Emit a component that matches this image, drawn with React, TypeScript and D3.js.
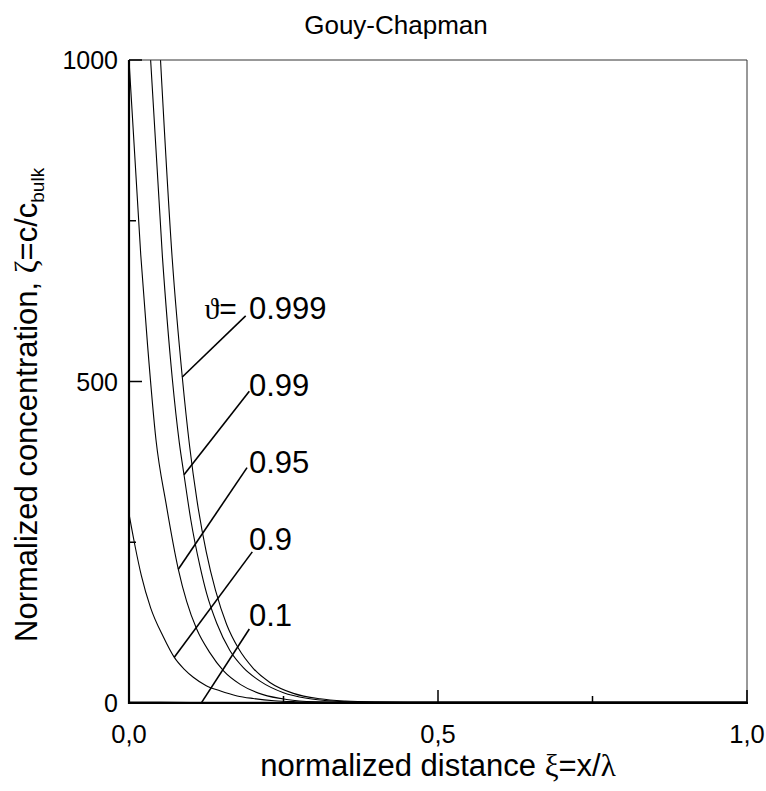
import React from "react";
import * as d3 from "d3";

// ---- data ----
const XI_0999 = [0.051, 0.07, 0.0862, 0.098, 0.11, 0.125, 0.14, 0.158, 0.177, 0.201, 0.228, 0.266, 0.309, 0.35, 0.4, 0.45, 0.55, 0.7, 1.0];
const ZETA_0999 = [1000, 690, 507, 400, 315, 235, 175, 122, 85, 54, 32, 15, 6.5, 3, 1.5, 1.1, 1, 1, 1];

const XI_099 = [0.035, 0.054, 0.07, 0.0814, 0.089, 0.1, 0.115, 0.1257, 0.142, 0.163, 0.185, 0.212, 0.25, 0.2875, 0.33, 0.38, 0.45, 0.55, 0.7, 1.0];
const ZETA_099 = [1000, 695, 505, 405, 355, 285, 212, 170, 124, 82, 55, 34, 16, 7.3, 3, 1.4, 1.1, 1, 1, 1];

const XI_095 = [0.0, 0.019, 0.03, 0.0437, 0.06, 0.0798, 0.0933, 0.1095, 0.131, 0.153, 0.18, 0.217, 0.255, 0.3, 0.35, 0.4, 0.5, 0.7, 1.0];
const ZETA_095 = [1000, 697, 557, 409, 310, 208, 158, 115, 78, 50, 29, 13, 5.5, 2, 1.2, 1.05, 1, 1, 1];

const XI_09 = [0.0, 0.01, 0.02, 0.035, 0.0555, 0.0733, 0.09, 0.104, 0.125, 0.147, 0.175, 0.201, 0.235, 0.27, 0.31, 0.36, 0.42, 0.55, 0.7, 1.0];
const ZETA_09 = [294, 243, 198, 148, 103, 71, 52, 40, 27, 19, 11, 7, 3.5, 2, 1.3, 1.1, 1, 1, 1, 1];

const XI_01 = [0.0, 0.05, 0.1, 0.2, 0.3, 0.5, 0.7, 1.0];
const ZETA_01 = [1.5, 1.3, 1.15, 1.05, 1.02, 1, 1, 1];

const SERIES_XI = [XI_0999, XI_099, XI_095, XI_09, XI_01];
const SERIES_ZETA = [ZETA_0999, ZETA_099, ZETA_095, ZETA_09, ZETA_01];

const LABELS = ["0.999", "0.99", "0.95", "0.9", "0.1"];
const LABEL_XI = 0.194;
const LABEL_ZETA = [597, 478, 358, 238, 120];
const LEADER_START_XI = [0.1888, 0.1947, 0.191, 0.1995, 0.1947];
const LEADER_START_ZETA = [602, 485, 366, 235, 115];
const LEADER_END_XI = [0.0862, 0.089, 0.0798, 0.0733, 0.1176];
const LEADER_END_ZETA = [507, 355, 208, 71, 1];

const X_MAJOR = [0, 0.5, 1.0];
const X_MAJOR_LABELS = ["0,0", "0,5", "1,0"];
const X_MINOR = [0.25, 0.75];
const Y_MAJOR = [0, 500, 1000];
const Y_MINOR = [250, 750];

const TITLE = "Gouy-Chapman";

// ---- layout ----
const W = 766;
const H = 791;
const M = { left: 129, right: 19, top: 60, bottom: 88 };
const SANS = "'Liberation Sans', Arial, Helvetica, sans-serif";
const SERIF = "'Liberation Serif', 'DejaVu Serif', 'Times New Roman', serif";

export default function App() {
  const x = d3.scaleLinear().domain([0, 1]).range([M.left, W - M.right]);
  const y = d3.scaleLinear().domain([0, 1000]).range([H - M.bottom, M.top]);

  const line = d3
    .line<[number, number]>()
    .x((d) => x(d[0]))
    .y((d) => y(d[1]))
    .curve(d3.curveMonotoneX);

  const x0 = x(0), x1 = x(1), y0 = y(0), y1 = y(1000);

  return (
    <svg
      width={W}
      height={H}
      style={{ position: "absolute", left: 0, top: 0, background: "#fff" }}
      fontFamily={SANS}
    >
      <defs>
        <clipPath id="plot">
          <rect x={x0} y={y1} width={x1 - x0} height={y0 - y1} />
        </clipPath>
      </defs>
      <rect x={0} y={0} width={W} height={H} fill="#fff" />

      {/* curves */}
      <g clipPath="url(#plot)" fill="none" stroke="#000" strokeWidth={1.1}>
        {SERIES_XI.map((xs, i) => (
          <path key={i} d={line(xs.map((v, j) => [v, SERIES_ZETA[i][j]]) as [number, number][]) || ""} />
        ))}
      </g>

      {/* frame */}
      <line x1={x0} x2={x1} y1={y1} y2={y1} stroke="#333" strokeWidth={1} />
      <line x1={x1} x2={x1} y1={y1} y2={y0} stroke="#333" strokeWidth={1} />
      <line x1={x0} x2={x1 + 1} y1={y0} y2={y0} stroke="#000" strokeWidth={2.2} />
      <line x1={x0} x2={x0} y1={y1} y2={y0 + 1} stroke="#000" strokeWidth={2.2} />

      {/* y ticks */}
      {Y_MAJOR.map((v) => (
        <g key={"ym" + v}>
          <line x1={x0} x2={x0 + 13} y1={y(v)} y2={y(v)} stroke="#000" strokeWidth={1.5} />
          <text x={x0 - 11} y={y(v) + 9} fontSize={25} textAnchor="end">{v}</text>
        </g>
      ))}
      {Y_MINOR.map((v) => (
        <line key={"yn" + v} x1={x0} x2={x0 + 7} y1={y(v)} y2={y(v)} stroke="#000" strokeWidth={1.5} />
      ))}

      {/* x ticks */}
      {X_MAJOR.map((v, i) => (
        <g key={"xm" + v}>
          <line x1={x(v)} x2={x(v)} y1={y0} y2={y0 - 13} stroke="#000" strokeWidth={1.5} />
          <text x={x(v)} y={y0 + 40} fontSize={25.5} textAnchor="middle">{X_MAJOR_LABELS[i]}</text>
        </g>
      ))}
      {X_MINOR.map((v) => (
        <line key={"xn" + v} x1={x(v)} x2={x(v)} y1={y0} y2={y0 - 7} stroke="#000" strokeWidth={1.5} />
      ))}

      {/* curve labels with leader lines */}
      {LABELS.map((lab, i) => (
        <g key={lab}>
          <line
            x1={x(LEADER_START_XI[i])}
            y1={y(LEADER_START_ZETA[i])}
            x2={x(LEADER_END_XI[i])}
            y2={y(LEADER_END_ZETA[i])}
            stroke="#000"
            strokeWidth={1.6}
          />
          <text x={x(LABEL_XI)} y={y(LABEL_ZETA[i])} fontSize={31}>{lab}</text>
        </g>
      ))}
      <text x={x(LABEL_XI) - 12} y={y(LABEL_ZETA[0])} fontSize={30} textAnchor="end">
        <tspan fontFamily={SERIF}>ϑ</tspan>
        <tspan>=</tspan>
      </text>

      {/* title */}
      <text x={396} y={34} fontSize={26} textAnchor="middle">{TITLE}</text>

      {/* x axis label */}
      <text x={438} y={776} fontSize={31} textAnchor="middle">
        normalized distance <tspan fontFamily={SERIF}>ξ</tspan>=x/<tspan fontFamily={SERIF}>λ</tspan>
      </text>

      {/* y axis label */}
      <text transform="translate(37,642) rotate(-90)" fontSize={31} textAnchor="start">
        Normalized concentration, <tspan fontFamily={SERIF}>ζ</tspan>=c/c
        <tspan fontSize={19} dy={7}>bulk</tspan>
      </text>
    </svg>
  );
}
